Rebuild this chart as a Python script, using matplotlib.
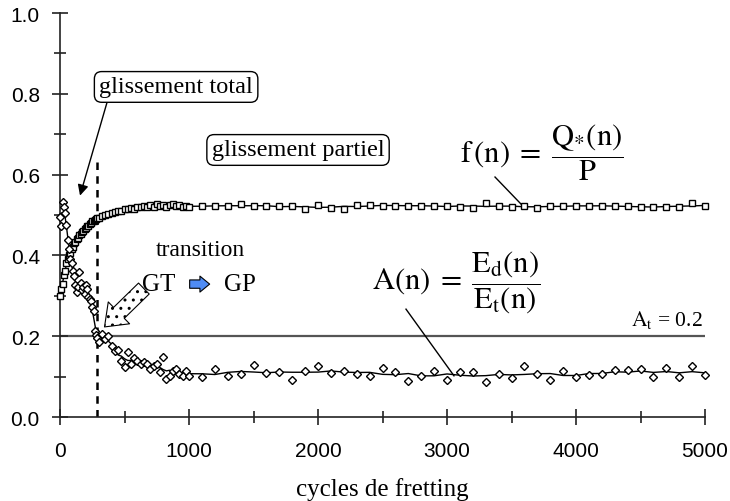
import numpy as np
import pandas as pd
import matplotlib
matplotlib.use('Agg')
import matplotlib.pyplot as plt
from matplotlib.ticker import MultipleLocator

# fretting cycles at which the test was sampled
cycles = np.concatenate([np.arange(0, 301, 10),
                         np.arange(325, 1001, 25),
                         np.arange(1100, 5001, 100)])

# friction coefficient f(n) = Q*(n)/P
friction = [0.300, 0.318, 0.330, 0.352, 0.362, 0.381, 0.390, 0.402, 0.405, 0.417,
            0.421, 0.430, 0.432, 0.441, 0.444, 0.450, 0.452, 0.458, 0.460, 0.466,
            0.467, 0.472, 0.473, 0.478, 0.479, 0.484, 0.485, 0.488, 0.489, 0.492,
            0.493,
            0.497, 0.499, 0.503, 0.505, 0.507, 0.510, 0.511, 0.514, 0.515, 0.517,
            0.516, 0.519, 0.520, 0.522, 0.520, 0.524, 0.521, 0.527, 0.522, 0.526,
            0.521, 0.524, 0.527, 0.522, 0.525, 0.521, 0.523, 0.520,
            0.522, 0.522, 0.522, 0.527, 0.522, 0.522, 0.522, 0.522, 0.515, 0.525,
            0.517, 0.515, 0.525, 0.525, 0.523, 0.523, 0.523, 0.523, 0.523, 0.523,
            0.519, 0.517, 0.530, 0.522, 0.519, 0.522, 0.517, 0.522, 0.522, 0.523,
            0.523, 0.523, 0.522, 0.523, 0.519, 0.519, 0.519, 0.519, 0.529, 0.523]

# energy ratio A(n) = Ed(n)/Et(n)
energy_ratio = [0.495, 0.472, 0.532, 0.521, 0.505, 0.476, 0.438, 0.416, 0.392, 0.381,
                0.362, 0.348, 0.326, 0.310, 0.322, 0.358, 0.332, 0.314, 0.322, 0.304,
                0.326, 0.318, 0.298, 0.293, 0.286, 0.272, 0.262, 0.212, 0.204, 0.196,
                0.186,
                0.205, 0.193, 0.201, 0.176, 0.164, 0.166, 0.139, 0.123, 0.162, 0.131,
                0.145, 0.139, 0.131, 0.135, 0.131, 0.119, 0.127, 0.131, 0.111, 0.149,
                0.094, 0.102, 0.115, 0.119, 0.106, 0.102, 0.115, 0.102,
                0.098, 0.119, 0.101, 0.106, 0.129, 0.109, 0.112, 0.092, 0.115, 0.126,
                0.109, 0.114, 0.106, 0.101, 0.121, 0.111, 0.089, 0.102, 0.115, 0.092,
                0.112, 0.112, 0.086, 0.106, 0.096, 0.127, 0.106, 0.092, 0.115, 0.098,
                0.103, 0.106, 0.116, 0.116, 0.119, 0.098, 0.121, 0.098, 0.127, 0.103]

threshold = 0.2        # A_t
transition_cycle = 290  # GT -> GP

# smoothed trend lines through the measurements
friction_trend = pd.Series(friction).rolling(5, center=True, min_periods=1).mean()
energy_trend = pd.Series(energy_ratio).rolling(5, center=True, min_periods=1).mean()

plt.rcParams['mathtext.fontset'] = 'stix'
serif = 'Liberation Serif'

fig = plt.figure(figsize=(7.3, 5.02), dpi=100)
ax = fig.add_axes([0.0822, 0.1673, 0.8836, 0.8048])

# threshold and transition markers
ax.axhline(threshold, color='#555555', lw=1.6, zorder=1)
ax.plot([transition_cycle, transition_cycle], [0, 0.63], color='black', lw=1.8,
        ls=(0, (3, 2.5)), zorder=2)

# both series: trend line + open markers
ax.plot(cycles, friction_trend, color='black', lw=1, zorder=3)
ax.plot(cycles, friction, ls='none', marker='s', ms=4, mfc='white', mec='black',
        mew=1, zorder=4, clip_on=False)
ax.plot(cycles, energy_trend, color='black', lw=1, zorder=3)
ax.plot(cycles, energy_ratio, ls='none', marker='D', ms=4, mfc='white', mec='black',
        mew=1, zorder=4, clip_on=False)

ax.set_xlim(0, 5000)
ax.set_ylim(0, 1.0)
ax.spines['top'].set_visible(False)
ax.spines['right'].set_visible(False)
for side in ['left', 'bottom']:
    ax.spines[side].set_linewidth(1.2)
    ax.spines[side].set_color('#222222')
ax.xaxis.set_major_locator(MultipleLocator(1000))
ax.xaxis.set_minor_locator(MultipleLocator(500))
ax.yaxis.set_major_locator(MultipleLocator(0.2))
ax.yaxis.set_minor_locator(MultipleLocator(0.1))
ax.yaxis.set_major_formatter(plt.FormatStrFormatter('%.1f'))
ax.tick_params(which='major', direction='inout', length=11, width=1.2, color='#222222',
               labelsize=15)
ax.tick_params(axis='x', which='major', pad=12)
ax.tick_params(axis='y', which='major', pad=9)
ax.tick_params(which='minor', direction='inout', length=9, width=1.2, color='#222222')
for lab in ax.get_xticklabels() + ax.get_yticklabels():
    lab.set_fontfamily('Liberation Sans')

ax.set_xlabel('cycles de fretting', fontfamily=serif, fontsize=18, labelpad=12)

box = dict(boxstyle='round,pad=0.2,rounding_size=0.3', fc='white', ec='black', lw=1)

# sliding regime labels
ax.annotate('glissement total', xy=(155, 0.548), xytext=(900, 0.817),
            fontfamily=serif, fontsize=17.5, ha='center', va='center', bbox=box,
            arrowprops=dict(arrowstyle='-|>', color='black', lw=1, mutation_scale=16,
                            shrinkA=0, shrinkB=0, relpos=(0.06, 0.0)))
ax.text(1845, 0.661, 'glissement partiel', fontfamily=serif, fontsize=17.5,
        ha='center', va='center', bbox=box)

# transition GT -> GP
ax.text(1085, 0.415, 'transition', fontfamily=serif, fontsize=17, ha='center', va='center')
ax.text(767, 0.329, 'GT', fontfamily=serif, fontsize=18, ha='center', va='center')
ax.text(1395, 0.329, 'GP', fontfamily=serif, fontsize=18, ha='center', va='center')
ax.annotate('', xy=(1160, 0.329), xytext=(1005, 0.329),
            arrowprops=dict(arrowstyle='simple,head_length=0.7,head_width=1.15,tail_width=0.6',
                            fc='#4f8cf5', ec='black', lw=0.8, mutation_scale=10,
                            shrinkA=0, shrinkB=0))
ax.annotate('', xy=(345, 0.223), xytext=(650, 0.318),
            arrowprops=dict(arrowstyle='simple,head_length=1.45,head_width=2.2,tail_width=1.1',
                            fc='white', ec='black', lw=0.8, hatch='..',
                            mutation_scale=10, shrinkA=0, shrinkB=0))

# formulas with leader lines
ax.text(3736, 0.656, r'$\mathrm{f\,(n)}\;=\;\dfrac{\mathrm{Q_{*}(n)}}{\mathrm{P}}$',
        fontsize=22, ha='center', va='center')
ax.plot([3372, 3589], [0.594, 0.522], color='black', lw=1)
ax.text(3070, 0.334, r'$\mathrm{A(n)}\;=\;\dfrac{\mathrm{E_d(n)}}{\mathrm{E_t(n)}}$',
        fontsize=22, ha='center', va='center')
ax.plot([2682, 3054], [0.267, 0.102], color='black', lw=1)
ax.text(4985, 0.215, r'$\mathrm{A_t}$ = 0.2', fontfamily=serif, fontsize=15.5,
        ha='right', va='bottom')

fig.savefig('out.png', dpi=100)
